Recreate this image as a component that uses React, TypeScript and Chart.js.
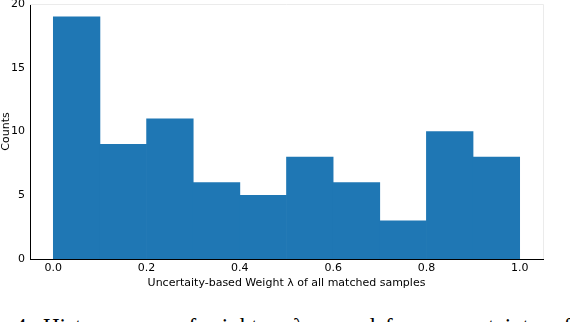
import React, { useEffect, useRef } from "react";
import { Chart, registerables } from "chart.js";

Chart.register(...registerables);

// Histogram bins (centers of 0.1-wide bins on [0, 1])
const binCenters = [0.05, 0.15, 0.25, 0.35, 0.45, 0.55, 0.65, 0.75, 0.85, 0.95];
const counts = [19, 9, 11, 6, 5, 8, 6, 3, 10, 8];
const xTicks = [0, 0.2, 0.4, 0.6, 0.8, 1.0];
const yTicks = [0, 5, 10, 15, 20];
const xTitle = "Uncertaity-based Weight \u03bb of all matched samples";
const yTitle = "Counts";
// clipped caption below the figure: words and their left offsets
const captionWords = ["4.", "Histogram", "of", "weight", "\u03bb", "and", "for", "uncertainty", "of"];
const captionLefts = [15, 43, 177, 195, 293, 342, 385, 437, 552];

const FONT = "'DejaVu Sans', sans-serif";

const spinePlugin = {
  id: "spines",
  afterDraw(chart: any) {
    const { ctx, chartArea } = chart;
    ctx.save();
    ctx.strokeStyle = "#ebebeb";
    ctx.lineWidth = 1;
    ctx.beginPath();
    ctx.moveTo(chartArea.left, chartArea.top + 0.5);
    ctx.lineTo(chartArea.right + 0.5, chartArea.top + 0.5);
    ctx.lineTo(chartArea.right + 0.5, chartArea.bottom);
    ctx.stroke();
    ctx.restore();
  },
};

export default function App() {
  const ref = useRef<HTMLCanvasElement | null>(null);

  useEffect(() => {
    document.body.style.margin = "0";
    document.body.style.overflow = "hidden";
    const canvas = ref.current;
    if (!canvas) return;
    const chart = new Chart(canvas, {
      type: "bar",
      data: {
        datasets: [
          {
            data: binCenters.map((x, i) => ({ x, y: counts[i] })),
            backgroundColor: "#1f77b4",
            borderWidth: 0,
            barPercentage: 1,
            categoryPercentage: 1,
          },
        ],
      },
      options: {
        responsive: false,
        animation: false,
        events: [],
        layout: { padding: { top: 4, right: 27, left: 0, bottom: 0 } },
        plugins: { legend: { display: false }, tooltip: { enabled: false } },
        scales: {
          x: {
            type: "linear",
            min: -0.05,
            max: 1.05,
            offset: false,
            grid: { display: false, drawTicks: false, tickLength: 0 },
            border: { display: true, color: "#000", width: 1 },
            afterBuildTicks: (scale: any) => {
              scale.ticks = xTicks.map((v) => ({ value: v }));
            },
            afterFit: (scale: any) => {
              scale.height = 31;
              scale.paddingLeft = 0;
              scale.paddingRight = 0;
            },
            ticks: {
              color: "#000",
              font: { family: FONT, size: 11 },
              padding: 3,
              maxRotation: 0,
              autoSkip: false,
              callback: (v: any) => Number(v).toFixed(1),
            },
            title: {
              display: true,
              text: xTitle,
              color: "#000",
              font: { family: FONT, size: 11 },
              padding: { top: 0, bottom: 0 },
            },
          },
          y: {
            type: "linear",
            min: 0,
            max: 20,
            grid: { display: false, drawTicks: false, tickLength: 0 },
            border: { display: true, color: "#000", width: 1 },
            afterBuildTicks: (scale: any) => {
              scale.ticks = yTicks.map((v) => ({ value: v }));
            },
            afterFit: (scale: any) => {
              scale.width = 30;
              scale.paddingTop = 0;
              scale.paddingBottom = 0;
            },
            ticks: {
              color: "#000",
              font: { family: FONT, size: 11 },
              padding: 5,
              autoSkip: false,
            },
            title: {
              display: true,
              text: yTitle,
              color: "#000",
              font: { family: FONT, size: 11 },
              padding: { top: 0, bottom: 0 },
            },
          },
        },
      },
      plugins: [spinePlugin],
    });
    return () => chart.destroy();
  }, []);

  return (
    <div style={{ position: "relative", width: 570, height: 322, overflow: "hidden", background: "#fff" }}>
      <canvas ref={ref} width={570} height={290} style={{ display: "block" }} />
      {captionWords.map((w, i) => (
        <span
          key={i}
          style={{
            position: "absolute",
            left: captionLefts[i],
            top: 314,
            fontFamily: "'Liberation Serif', serif",
            fontSize: 23,
            whiteSpace: "nowrap",
            color: "#000",
            lineHeight: "normal",
          }}
        >
          {w}
        </span>
      ))}
    </div>
  );
}
